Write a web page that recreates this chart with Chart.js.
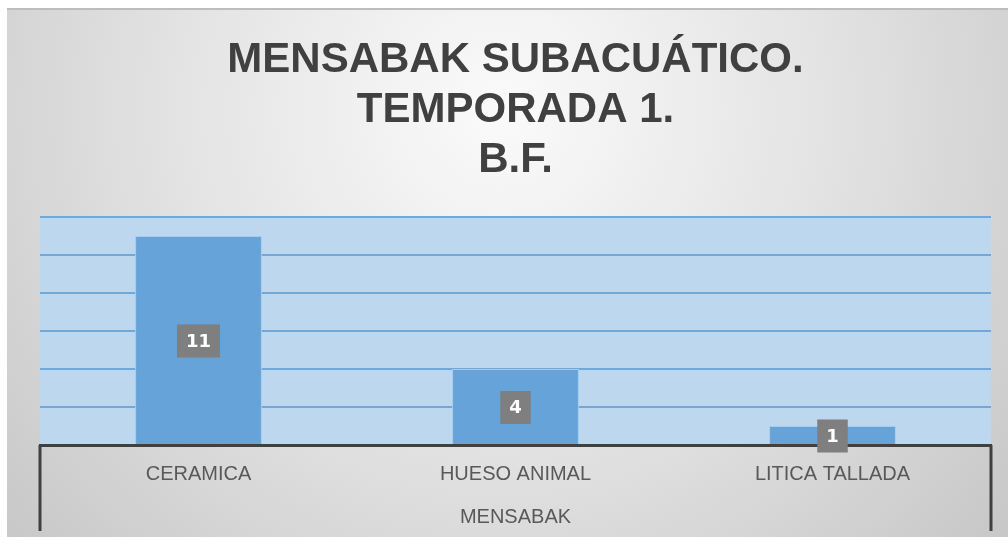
<!DOCTYPE html>
<html>
<head>
<meta charset="utf-8">
<script src="https://cdn.jsdelivr.net/npm/chart.js@4.4.1/dist/chart.umd.min.js"></script>
<style>
  html, body { margin: 0; padding: 0; background: #fff; }
  #wrap { position: relative; width: 1008px; height: 537px; }
</style>
</head>
<body>
<div id="wrap"><canvas id="chart" width="1008" height="537"></canvas></div>
<script>
// Chart data
const categories = ['CERAMICA', 'HUESO ANIMAL', 'LITICA TALLADA'];
const counts = [11, 4, 1];
const groupLabel = 'MENSABAK';
const titleLines = ['MENSABAK SUBACUÁTICO.', 'TEMPORADA 1.', 'B.F.'];

const FONT = '"Liberation Sans Narrow", "Liberation Sans", Arial, sans-serif';
const TEXT_GREY = '#595959';

// Grey gradient panel behind everything, light blue plot area
const backgroundPlugin = {
    id: 'panelBackground',
    beforeDraw(chart) {
        const ctx = chart.ctx;
        const w = chart.width, h = chart.height;
        ctx.save();
        ctx.fillStyle = '#ffffff';
        ctx.fillRect(0, 0, w, h);
        const grad = ctx.createRadialGradient(500, 110, 20, 500, 110, 700);
        grad.addColorStop(0, '#f9f9f9');
        grad.addColorStop(0.45, '#e3e3e3');
        grad.addColorStop(1, '#c4c4c4');
        ctx.fillStyle = grad;
        ctx.fillRect(7, 8, w - 7, h - 8);
        ctx.fillStyle = '#bdbdbd';
        ctx.fillRect(7, 8, w - 7, 2);
        const a = chart.chartArea;
        ctx.fillStyle = '#bdd7ee';
        ctx.fillRect(a.left, a.top, a.right - a.left, a.bottom - a.top);
        ctx.restore();
    }
};

// Side lines of the two-level category axis box
const axisBoxPlugin = {
    id: 'axisBox',
    afterDraw(chart) {
        const ctx = chart.ctx;
        const a = chart.chartArea;
        const x = chart.scales.x;
        ctx.save();
        ctx.strokeStyle = '#404040';
        ctx.lineWidth = 3;
        ctx.beginPath();
        ctx.moveTo(a.left, a.bottom);
        ctx.lineTo(a.left, x.bottom);
        ctx.moveTo(a.right, a.bottom);
        ctx.lineTo(a.right, x.bottom);
        ctx.stroke();
        ctx.restore();
    }
};

// Value labels in grey boxes at the middle of each bar
const valueBoxPlugin = {
    id: 'valueBoxes',
    afterDatasetsDraw(chart) {
        const ctx = chart.ctx;
        const meta = chart.getDatasetMeta(0);
        ctx.save();
        ctx.font = 'bold 18px "DejaVu Sans", sans-serif';
        ctx.textAlign = 'center';
        ctx.textBaseline = 'middle';
        meta.data.forEach((bar, i) => {
            const text = String(chart.data.datasets[0].data[i]);
            const cy = (bar.y + bar.base) / 2 + 1;
            const tw = ctx.measureText(text).width;
            const bw = tw + 18, bh = 33;
            ctx.fillStyle = '#7f7f7f';
            ctx.fillRect(bar.x - bw / 2, cy - bh / 2, bw, bh);
            ctx.fillStyle = '#ffffff';
            ctx.fillText(text, bar.x, cy + 1);
        });
        ctx.restore();
    }
};

new Chart(document.getElementById('chart'), {
    type: 'bar',
    data: {
        labels: categories,
        datasets: [{
            data: counts,
            backgroundColor: '#66a3d8',
            borderColor: '#a9cbea',
            borderWidth: 1,
            barPercentage: 0.4,
            categoryPercentage: 1.0
        }]
    },
    options: {
        responsive: false,
        animation: false,
        layout: { padding: { top: 35, left: 40, right: 17, bottom: 6 } },
        plugins: {
            legend: { display: false },
            tooltip: { enabled: false },
            title: {
                display: true,
                text: titleLines,
                color: '#404040',
                font: { family: FONT, size: 42, weight: 'bold', lineHeight: '50px' },
                padding: { top: 0, bottom: 32 }
            }
        },
        scales: {
            x: {
                grid: { display: false },
                border: { display: true, color: '#404040', width: 3 },
                ticks: { color: TEXT_GREY, font: { family: FONT, size: 20 }, padding: 9 },
                title: {
                    display: true,
                    text: groupLabel,
                    color: TEXT_GREY,
                    font: { family: FONT, size: 20 },
                    padding: { top: 10, bottom: 2 }
                }
            },
            y: {
                min: 0,
                max: 12,
                ticks: { display: false, stepSize: 2 },
                border: { display: false },
                grid: { color: '#72a7da', lineWidth: 2, drawTicks: false },
                afterFit(scale) { scale.width = 0; }
            }
        }
    },
    plugins: [backgroundPlugin, axisBoxPlugin, valueBoxPlugin]
});
</script>
</body>
</html>
